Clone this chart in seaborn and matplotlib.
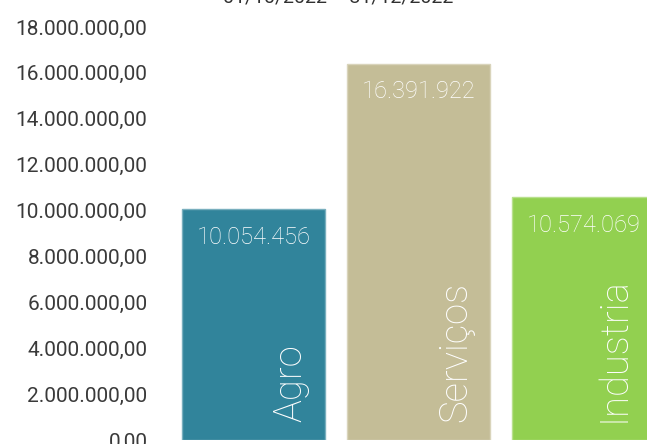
import matplotlib
matplotlib.use("Agg")
import matplotlib.pyplot as plt
import seaborn as sns
import pandas as pd
import matplotlib.colors as mcolors

categories = ["Agro", "Serviços", "Industria"]
values = [10054456, 16391922, 10574069]
value_labels = ["10.054.456", "16.391.922", "10.574.069"]
colors = ["#31849B", "#C4BD97", "#92D050"]
yticks = [0, 2e6, 4e6, 6e6, 8e6, 10e6, 12e6, 14e6, 16e6, 18e6]
ytick_labels = ["0,00", "2.000.000,00", "4.000.000,00", "6.000.000,00", "8.000.000,00",
                "10.000.000,00", "12.000.000,00", "14.000.000,00", "16.000.000,00",
                "18.000.000,00"]
title = "01/10/2022 – 31/12/2022"

sns.set_theme(style="white")
plt.rcParams['font.family'] = ['Roboto', 'DejaVu Sans']

W, H = 647, 444
fig = plt.figure(figsize=(W / 100, H / 100), dpi=100)
ax = fig.add_axes([160 / W, 4 / H, (W - 160) / W, 413 / H])

df = pd.DataFrame({"cat": categories, "val": values})
sns.barplot(data=df, x="cat", y="val", hue="cat", palette=colors, legend=False,
            width=0.867, ax=ax, saturation=1)

for i, p in enumerate(ax.patches):
    c = mcolors.to_rgb(colors[i])
    light = tuple(ci + (1 - ci) * 0.35 for ci in c)
    p.set_edgecolor(light)
    p.set_linewidth(1.0)

ax.set_xlim(-0.567, 2.385)
ax.set_ylim(0, 18e6)
ax.set_yticks(yticks)
ax.set_yticklabels(ytick_labels, fontsize=15, color="#3a3a3a")
ax.tick_params(axis="y", length=0, pad=9)
ax.set_xticks([])
ax.set_xlabel("")
ax.set_ylabel("")
for s in ax.spines.values():
    s.set_visible(False)

name_offsets = [0.29, 0.29, 0.25]
for i, (v, lab) in enumerate(zip(values, value_labels)):
    ax.annotate(lab, xy=(i, v), xytext=(0, -20), textcoords="offset points",
                ha="center", va="center", color="white", fontsize=17,
                fontweight="light")
    ax.annotate(categories[i], xy=(i + name_offsets[i], 0), xytext=(0, 13),
                textcoords="offset points", rotation=90, rotation_mode="anchor",
                ha="left", va="baseline", color="white", fontsize=27.5,
                fontweight="light")

fig.text(338 / W, 1 - 3 / H, title, ha="center", va="baseline", fontsize=14,
         color="#303030")

fig.savefig("out.png", dpi=100)
